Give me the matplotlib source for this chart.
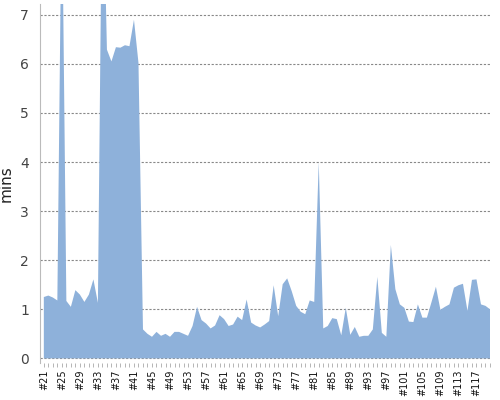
import matplotlib
matplotlib.use('Agg')
import matplotlib.pyplot as plt

# build numbers #21 .. #120
builds = list(range(21, 121))
mins = [
    1.25, 1.28, 1.24, 1.18, 9.8, 1.17, 1.05, 1.39, 1.30, 1.15,
    1.30, 1.61, 1.13, 10.5, 6.29, 6.05, 6.34, 6.33, 6.38, 6.36,
    6.90, 6.02, 0.59, 0.50, 0.44, 0.54, 0.46, 0.50, 0.44, 0.54,
    0.54, 0.50, 0.46, 0.66, 1.05, 0.78, 0.71, 0.61, 0.67, 0.88,
    0.80, 0.66, 0.69, 0.85, 0.78, 1.20, 0.73, 0.67, 0.63, 0.69,
    0.76, 1.49, 0.86, 1.51, 1.63, 1.37, 1.07, 0.95, 0.90, 1.18,
    1.15, 4.00, 0.61, 0.66, 0.82, 0.80, 0.47, 1.03, 0.48, 0.64,
    0.44, 0.46, 0.46, 0.59, 1.66, 0.52, 0.44, 2.31, 1.41, 1.10,
    1.03, 0.75, 0.74, 1.10, 0.83, 0.83, 1.14, 1.46, 0.99, 1.05,
    1.10, 1.44, 1.49, 1.52, 0.97, 1.60, 1.61, 1.10, 1.07, 1.00,
]
tick_builds = builds[::4]
tick_labels = ['#%d' % b for b in tick_builds]

fig = plt.figure(figsize=(5, 4), dpi=100)
ax = fig.add_axes([0.08, 0.093, 0.90, 0.897])

ax.fill_between(builds, mins, 0, color='#8eb1da', linewidth=0)

ax.set_xlim(20.15, 120)
ax.set_ylim(-0.09, 7.22)
ax.set_yticks(range(0, 8))
ax.set_yticklabels([str(v) for v in range(0, 8)])
ax.yaxis.grid(True, linestyle=(0, (2, 1.5)), color='#888888', linewidth=0.8)
ax.set_axisbelow(True)

ax.set_xticks(tick_builds)
ax.set_xticklabels(tick_labels, rotation=90, fontsize=7, color='#111111')
ax.set_xticks(builds, minor=True)
ax.tick_params(axis='x', which='both', length=3, color='#aaaaaa', width=0.6, pad=2)
ax.tick_params(axis='y', length=0, labelsize=10, labelcolor='#444444', pad=8)

for side in ['top', 'right', 'bottom']:
    ax.spines[side].set_visible(False)
ax.spines['left'].set_color('#bbbbbb')

ax.set_ylabel('mins', fontsize=11, color='#222222')
ax.yaxis.set_label_coords(-0.058, 0.5)

fig.savefig('out.png')
